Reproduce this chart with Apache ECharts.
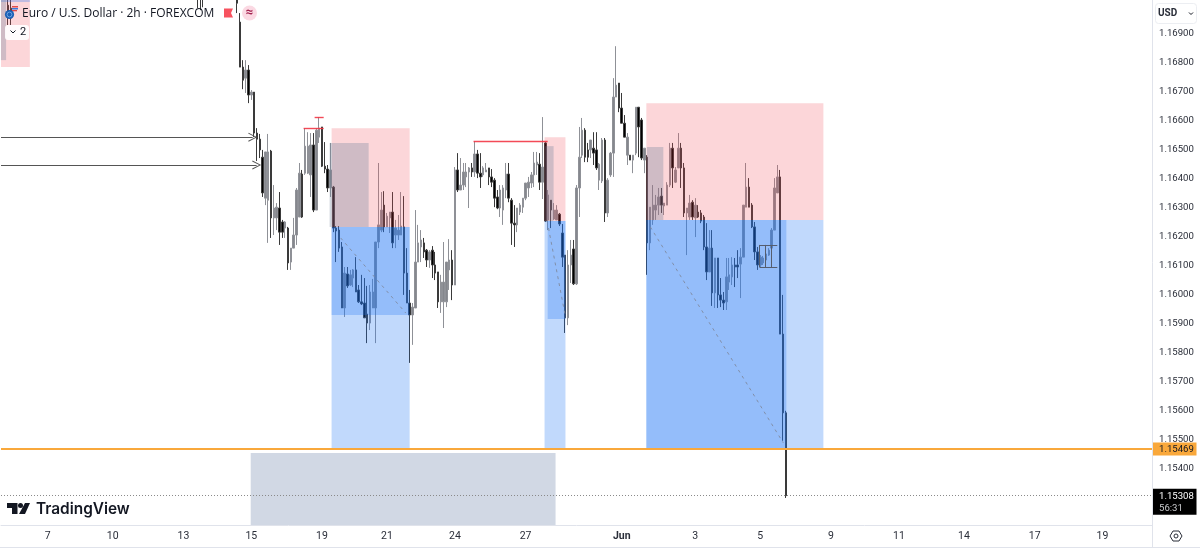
<!DOCTYPE html>
<html><head><meta charset="utf-8">
<style>html,body{margin:0;padding:0;background:#fff}#c{width:1200px;height:548px}</style>
<script src="https://cdn.jsdelivr.net/npm/echarts@6/dist/echarts.min.js"></script>
</head><body><div id="c"></div>
<script>
const BAR_COUNT = 407;
const priceTicks = [1.169,1.168,1.167,1.166,1.165,1.164,1.163,1.162,1.161,1.16,1.159,1.158,1.157,1.156,1.155,1.154];
const dateTicks = [['7',16],['10',39],['13',64],['15',88],['19',113],['21',136],['24',160],['27',185],['Jun',219],['3',245],['5',268],['9',293],['11',317],['14',340],['17',365],['19',389]];
const lastPrice = 1.15308;
const levelPrice = 1.15469;
const countdown = '56:31';
// [open, close, low, high]; the series enters the visible window from above
const stubBars = {
  2:[1.16996,1.16955,1.16928,1.17031],
  3:[1.16986,1.16952,1.16928,1.17014],
  69:[1.17082,1.17048,1.16986,1.17090],
  70:[1.17082,1.17048,1.16979,1.17090],
  71:[1.17082,1.17048,1.16989,1.17090]
};
const firstBar = 83;
const ohlc = [
[1.17041,1.17003,1.16969,1.17065],[1.16938,1.16783,1.16783,1.16969],[1.16783,1.16738,1.16707,1.16807],[1.16745,1.16773,1.16694,1.16807],
[1.16773,1.16687,1.16659,1.16790],[1.16687,1.16697,1.16670,1.16704],[1.16697,1.16556,1.16542,1.16697],[1.16556,1.16535,1.16460,1.16573],
[1.16535,1.16498,1.16470,1.16553],[1.16473,1.16350,1.16336,1.16498],[1.16332,1.16491,1.16308,1.16491],[1.16325,1.16491,1.16178,1.16553],
[1.16494,1.16264,1.16195,1.16498],[1.16264,1.16298,1.16205,1.16377],[1.16264,1.16301,1.16222,1.16315],[1.16298,1.16215,1.16171,1.16353],
[1.16250,1.16215,1.16195,1.16257],[1.16229,1.16250,1.16195,1.16253],[1.16229,1.16109,1.16085,1.16233],[1.16112,1.16160,1.16085,1.16160],
[1.16160,1.16205,1.16160,1.16264],[1.16205,1.16360,1.16171,1.16367],[1.16267,1.16418,1.16267,1.16453],[1.16415,1.16267,1.16264,1.16429],
[1.16418,1.16511,1.16412,1.16573],[1.16418,1.16511,1.16415,1.16559],[1.16412,1.16515,1.16336,1.16556],[1.16515,1.16291,1.16284,1.16556],
[1.16291,1.16566,1.16291,1.16573],[1.16542,1.16573,1.16522,1.16611],[1.16577,1.16442,1.16439,1.16577],[1.16442,1.16432,1.16418,1.16525],
[1.16432,1.16367,1.16353,1.16446],[1.16367,1.16429,1.16336,1.16522],[1.16370,1.16229,1.16215,1.16374],[1.16229,1.16219,1.16112,1.16236],
[1.16222,1.16160,1.16147,1.16236],[1.16164,1.15954,1.15954,1.16181],[1.15954,1.16074,1.15923,1.16095],[1.16071,1.16030,1.16023,1.16095],
[1.16033,1.16068,1.16030,1.16085],[1.16057,1.16085,1.16026,1.16088],[1.16085,1.16009,1.16009,1.16129],[1.16016,1.15975,1.15971,1.16033],
[1.15975,1.15968,1.15964,1.16068],[1.15971,1.15920,1.15920,1.16057],[1.15933,1.15902,1.15833,1.16030],[1.15902,1.16009,1.15878,1.16033],
[1.15954,1.16009,1.15954,1.16054],[1.15954,1.16181,1.15833,1.16181],[1.16181,1.16240,1.16160,1.16453],[1.16222,1.16291,1.16215,1.16353],
[1.16308,1.16233,1.16215,1.16356],[1.16233,1.16270,1.16233,1.16281],[1.16264,1.16284,1.16212,1.16284],[1.16284,1.16178,1.16160,1.16353],
[1.16205,1.16229,1.16160,1.16257],[1.16205,1.16222,1.16188,1.16274],[1.16205,1.16236,1.16205,1.16353],[1.16233,1.16074,1.15999,1.16339],
[1.16074,1.15971,1.15971,1.16160],[1.15971,1.15930,1.15765,1.16016],[1.15930,1.15957,1.15827,1.15971],[1.15954,1.16112,1.15954,1.16291],
[1.16112,1.16178,1.16112,1.16240],[1.16164,1.16188,1.16112,1.16222],[1.16178,1.16147,1.16126,1.16195],[1.16153,1.16119,1.16095,1.16157],
[1.16119,1.16147,1.16092,1.16153],[1.16153,1.16102,1.16057,1.16167],[1.16102,1.16074,1.16050,1.16147],[1.16078,1.15975,1.15954,1.16078],
[1.15975,1.16043,1.15937,1.16068],[1.15975,1.16043,1.15885,1.16181],[1.15975,1.16112,1.15957,1.16112],[1.16085,1.16119,1.16016,1.16191],
[1.16119,1.16033,1.15981,1.16153],[1.16033,1.16429,1.16033,1.16439],[1.16429,1.16360,1.16353,1.16487],[1.16360,1.16377,1.16360,1.16470],
[1.16377,1.16422,1.16360,1.16453],[1.16405,1.16422,1.16370,1.16453],[1.16422,1.16436,1.16298,1.16439],[1.16436,1.16422,1.16405,1.16453],
[1.16422,1.16484,1.16405,1.16528],[1.16484,1.16418,1.16401,1.16498],[1.16418,1.16405,1.16367,1.16487],[1.16412,1.16436,1.16405,1.16442],
[1.16422,1.16429,1.16422,1.16453],[1.16436,1.16405,1.16377,1.16436],[1.16405,1.16387,1.16370,1.16432],[1.16394,1.16332,1.16301,1.16401],
[1.16336,1.16298,1.16294,1.16360],[1.16298,1.16360,1.16267,1.16377],[1.16291,1.16367,1.16240,1.16377],[1.16360,1.16415,1.16332,1.16453],
[1.16415,1.16332,1.16318,1.16453],[1.16325,1.16246,1.16171,1.16332],[1.16246,1.16240,1.16164,1.16308],[1.16240,1.16298,1.16215,1.16298],
[1.16284,1.16308,1.16274,1.16315],[1.16301,1.16332,1.16281,1.16332],[1.16332,1.16384,1.16325,1.16384],[1.16367,1.16387,1.16336,1.16405],
[1.16384,1.16412,1.16367,1.16422],[1.16412,1.16453,1.16370,1.16491],[1.16446,1.16456,1.16412,1.16491],[1.16449,1.16387,1.16360,1.16487],
[1.16387,1.16439,1.16329,1.16611],[1.16522,1.16253,1.16250,1.16525],[1.16257,1.16343,1.16222,1.16360],[1.16325,1.16291,1.16229,1.16325],
[1.16260,1.16291,1.16257,1.16315],[1.16257,1.16291,1.16257,1.16308],[1.16277,1.16243,1.16236,1.16281],[1.16212,1.16129,1.16095,1.16243],
[1.16136,1.15920,1.15868,1.16136],[1.15920,1.16102,1.15895,1.16153],[1.16102,1.16136,1.16040,1.16188],[1.16157,1.16037,1.16033,1.16188],
[1.16037,1.16367,1.16033,1.16377],[1.16367,1.16473,1.16267,1.16577],[1.16480,1.16566,1.16470,1.16608],[1.16566,1.16473,1.16456,1.16573],
[1.16498,1.16473,1.16456,1.16522],[1.16498,1.16532,1.16470,1.16532],[1.16504,1.16487,1.16446,1.16559],[1.16498,1.16436,1.16429,1.16559],
[1.16394,1.16449,1.16360,1.16453],[1.16391,1.16532,1.16384,1.16539],[1.16532,1.16281,1.16250,1.16539],[1.16281,1.16394,1.16267,1.16401],
[1.16412,1.16487,1.16405,1.16491],[1.16487,1.16680,1.16405,1.16745],[1.16680,1.16721,1.16680,1.16855],[1.16728,1.16642,1.16628,1.16728],
[1.16642,1.16590,1.16590,1.16694],[1.16590,1.16542,1.16542,1.16618],[1.16480,1.16542,1.16446,1.16556],[1.16480,1.16463,1.16463,1.16480],
[1.16463,1.16480,1.16418,1.16480],[1.16487,1.16645,1.16480,1.16645],[1.16645,1.16577,1.16473,1.16645],[1.16601,1.16470,1.16463,1.16608],
[1.16463,1.16504,1.16418,1.16504],[1.16473,1.16178,1.16068,1.16480],[1.16178,1.16301,1.16153,1.16301],[1.16257,1.16308,1.16240,1.16377],
[1.16291,1.16308,1.16257,1.16343],[1.16308,1.16336,1.16274,1.16367],[1.16339,1.16308,1.16281,1.16367],[1.16305,1.16315,1.16274,1.16315],
[1.16308,1.16377,1.16308,1.16387],[1.16377,1.16504,1.16370,1.16522],[1.16504,1.16436,1.16367,1.16522],[1.16387,1.16429,1.16384,1.16439],
[1.16436,1.16504,1.16436,1.16556],[1.16504,1.16436,1.16367,1.16522],[1.16436,1.16281,1.16267,1.16453],[1.16281,1.16298,1.16136,1.16298],
[1.16267,1.16315,1.16257,1.16343],[1.16318,1.16267,1.16257,1.16325],[1.16264,1.16308,1.16198,1.16332],[1.16284,1.16267,1.16264,1.16308],
[1.16281,1.16253,1.16246,1.16291],[1.16267,1.16164,1.16153,1.16274],[1.16164,1.16078,1.16050,1.16246],[1.16078,1.16160,1.16078,1.16222],
[1.16160,1.16006,1.15961,1.16222],[1.16006,1.16126,1.15954,1.16126],[1.16126,1.15999,1.15954,1.16126],[1.15999,1.15981,1.15957,1.16057],
[1.15981,1.15971,1.15947,1.16009],[1.15975,1.16061,1.15947,1.16126],[1.16043,1.16068,1.16016,1.16126],[1.16061,1.16102,1.16033,1.16129],
[1.16102,1.16095,1.16026,1.16126],[1.16102,1.16095,1.16057,1.16153],[1.16105,1.16129,1.15988,1.16160],[1.16129,1.16308,1.16129,1.16308],
[1.16301,1.16370,1.16301,1.16453],[1.16370,1.16301,1.16301,1.16401],[1.16308,1.16233,1.16229,1.16315],[1.16233,1.16147,1.16119,1.16250],
[1.16147,1.16102,1.16085,1.16164],[1.16102,1.16129,1.16092,1.16136],[1.16109,1.16126,1.16102,1.16133],[1.16119,1.16140,1.16116,1.16143],
[1.16136,1.16153,1.16133,1.16160],[1.16160,1.16222,1.16153,1.16229],[1.16222,1.16367,1.16222,1.16401],[1.16350,1.16405,1.16350,1.16446],
[1.16405,1.15864,1.15864,1.16429],[1.15864,1.15593,1.15497,1.15999],[1.15593,1.15308,1.15300,1.15600]
];
// drawing tools: [barFrom, barTo, priceTop, priceBottom]
const riskZones = [[116.4,144,1.16573,1.16233],[191.7,199.1,1.16542,1.16253],[227.7,290.3,1.16659,1.16257],[-0.5,9.7,1.17014,1.16783]];
const rewardZones = [[116.4,144,1.16233,1.15469],[191.7,199.1,1.16253,1.15469],[227.7,290.3,1.16257,1.15469],[116.4,144,1.16233,1.15930],[192.8,199.1,1.16253,1.15916],[227.7,277.2,1.16257,1.15469],[-0.5,9.7,1.17014,1.17007]];
const greyZones = [[115.7,129.5,1.16522,1.16233],[191.9,194.9,1.16511,1.16253],[227.9,233.7,1.16508,1.16257],[-0.5,1.3,1.17014,1.16807]];
const slateZones = [[87.8,195.6,1.15455,1.15207]];
const redLines = [[106.5,113.6,1.16573,1.16573],[110.4,113.6,1.16611,1.16611],[166.6,192.8,1.16528,1.16528]];
const arrowLines = [[-0.5,88.5,1.16542,1.16542],[-0.5,89.9,1.16446,1.16446]];
const dashLines = [[119.6,142.6,1.16195,1.15937],[193.1,199.1,1.16229,1.15923],[229.1,276.1,1.16233,1.15490]];
const boxLines = [[267.7,274,1.16171,1.16171],[267.7,274,1.16095,1.16095],[267.7,267.7,1.16171,1.16095],[269.8,269.8,1.16171,1.16095],[271.9,271.9,1.16171,1.16095]];

const categories = Array.from({length:BAR_COUNT},(_, i)=>'bar'+i);
const tickAt = Object.fromEntries(dateTicks.map(d=>[d[1],d[0]]));
const seriesData = categories.map((_, i)=>{
  if (stubBars[i]) return stubBars[i];
  const r = ohlc[i-firstBar];
  return r || ['-','-','-','-'];
});
const zoneItems = (z,color)=>z.map(r=>[{xAxis:r[0],yAxis:r[2],itemStyle:{color}},{xAxis:r[1],yAxis:r[3]}]);
const lineItems = (l,lineStyle)=>l.map(r=>[{coord:[r[0],r[2]],lineStyle},{coord:[r[1],r[3]]}]);
const overlay = (extra)=>Object.assign({type:'line',xAxisIndex:1,yAxisIndex:0,data:[],silent:true,animation:false},extra);
const ml = (data,symbol,symbolSize,z)=>({silent:true,animation:false,symbol,symbolSize:symbolSize||0,label:{show:false},emphasis:{disabled:true},z:z||6,data});
const chevron='path://M0,10.5 L5,0 L10,10.5 L9,11 L5,2.4 L1,11 Z';
const FONT='Roboto,"Open Sans",sans-serif';

const chart = echarts.init(document.getElementById('c'),null,{renderer:'canvas'});
chart.setOption({
  animation:false,backgroundColor:'#fff',
  grid:{left:1,top:0,width:1151,height:525,containLabel:false},
  xAxis:[
   {type:'category',data:categories,boundaryGap:true,
    axisLine:{lineStyle:{color:'#e0e3eb',width:1}},axisTick:{show:false},splitLine:{show:false},
    axisLabel:{interval:i=>tickAt[i]!==undefined,formatter:(v,i)=>{const t=tickAt[i];return t==='Jun'?'{b|Jun}':(t||'');},
      color:'#2a2e39',fontSize:10.5,fontFamily:FONT,margin:6,rich:{b:{fontWeight:'bold',fontSize:10.5,fontFamily:FONT,color:'#2a2e39'}}}},
   {type:'value',min:-0.5,max:BAR_COUNT-0.5,show:false}
  ],
  yAxis:{type:'value',position:'right',min:1.15207,max:1.17014,scale:true,
    axisLine:{show:true,onZero:false,lineStyle:{color:'#e0e3eb'}},axisTick:{show:false},splitLine:{show:false},
    axisLabel:{customValues:priceTicks,formatter:v=>v.toFixed(5),color:'#2a2e39',fontSize:9.6,fontFamily:FONT,margin:7,padding:[2,0,0,0]}},
  series:[
   {type:'candlestick',data:seriesData,barWidth:2,z:2,silent:true,
    itemStyle:{color:'#85878d',borderColor:'#8f9197',color0:'#000',borderColor0:'#3a3a3a',borderWidth:1}},
   overlay({markArea:{silent:true,animation:false,z:4,data:[
     ...zoneItems(slateZones,'#d1d8e4'),
     ...zoneItems(riskZones,'rgba(242,70,80,0.22)'),
     ...zoneItems(rewardZones,'rgba(33,120,245,0.28)'),
     ...zoneItems(greyZones,'rgba(104,125,153,0.30)')]}}),
   overlay({markLine:ml(lineItems(redLines,{color:'#f23645',width:1.4,type:'solid',opacity:.9}),'none')}),
   overlay({markLine:ml(lineItems(arrowLines,{color:'#555',width:1,type:'solid'}),['none',chevron],9)}),
   overlay({markLine:ml(lineItems(dashLines,{color:'#7e8aa0',width:1,type:[3,4],opacity:.9}),'none')}),
   overlay({markLine:ml(lineItems(boxLines,{color:'#555d6e',width:1,type:'solid'}),'none')}),
   overlay({markLine:ml([[{coord:[-0.5,levelPrice],lineStyle:{color:'#f9a83b',width:2,type:'solid'}},{coord:[BAR_COUNT-0.5,levelPrice]}],
     [{coord:[-0.5,lastPrice],lineStyle:{color:'#8a8a8a',width:1,type:[1,2]}},{coord:[BAR_COUNT-0.5,lastPrice]}]],'none')})
  ]
});
const yOf = p=>chart.convertToPixel({yAxisIndex:0},p);
const yL=yOf(levelPrice), yP=yOf(lastPrice);
const txt=(x,y,text,o)=>({type:'text',z:50,x,y,silent:true,style:Object.assign({text,fill:'#131722',font:'9.6px '+FONT,align:'left',verticalAlign:'middle'},o||{})});
const rect=(x,y,w,h,fill,o)=>({type:'rect',z:49,silent:true,shape:Object.assign({x,y,width:w,height:h},o&&o.shape||{}),style:Object.assign({fill},o&&o.style||{})});
chart.setOption({graphic:[
  rect(1153,yL-6.5,43.5,13,'#f9a83b'),
  txt(1159,yL+.5,levelPrice.toFixed(5),{fill:'#131722'}),
  rect(1153,yP-7,43.5,26,'#000'),
  txt(1159,yP+.5,lastPrice.toFixed(5),{fill:'#fff'}),
  txt(1159,yP+12.5,countdown,{fill:'#c8c9cc'}),
  // right & bottom frame
  rect(0,547,1200,1,'#e0e3eb'),
  rect(1152,525,1,23,'#e0e3eb'),
  // currency button
  rect(1155.5,3.5,41,20,'#fff',{shape:{r:3},style:{stroke:'#eceef2'}}),
  txt(1158,13.5,'USD',{font:'bold 10px '+FONT,fill:'#2a2e39'}),
  {type:'polyline',z:50,silent:true,shape:{points:[[1189,12.5],[1191,14.5],[1193,12.5]]},style:{stroke:'#131722',lineWidth:1,fill:null}},
  // header
  {type:'circle',z:50,silent:true,shape:{cx:9.5,cy:14.5,r:4.6},style:{fill:'#1a5fb4'}},
  {type:'circle',z:50,silent:true,shape:{cx:9.5,cy:14.5,r:2.4},style:{fill:'none',stroke:'#7fb1ec',lineWidth:.8}},
  rect(12,6,6,1.5,'#e04b4b'),rect(12,8,6,1.5,'#3a78d8'),rect(12,10,5,1.3,'#e04b4b'),
  txt(22,13.5,'Euro / U.S. Dollar · 2h · FOREXCOM',{font:'12px "Open Sans",sans-serif',fill:'#131722'}),
  {type:'polygon',z:50,silent:true,shape:{points:[[224,8.5],[233,8.5],[231,13],[233,17.5],[224,17.5]]},style:{fill:'#f7525f'}},
  {type:'circle',z:50,silent:true,shape:{cx:249.5,cy:13,r:7.5},style:{fill:'#fbd9e3'}},
  txt(245.5,13,'≈',{font:'bold 13px '+FONT,fill:'#a3214f'}),
  rect(5,25,24,15,'rgba(255,255,255,0.9)',{shape:{r:3}}),
  {type:'polyline',z:50,silent:true,shape:{points:[[10.5,30.5],[13,33],[15.5,30.5]]},style:{stroke:'#131722',lineWidth:1,fill:null}},
  txt(20,32.5,'2',{font:'11px '+FONT}),
  // watermark logo
  {type:'polygon',z:50,silent:true,shape:{points:[[7,503],[17.5,503],[17.5,514],[12,514],[12,508],[7,508]]},style:{fill:'#131722'}},
  {type:'circle',z:50,silent:true,shape:{cx:20.5,cy:505.5,r:2.5},style:{fill:'#131722'}},
  {type:'polygon',z:50,silent:true,shape:{points:[[25,503],[30,503],[25,514],[19,514]]},style:{fill:'#131722'}},
  txt(36,509.5,'TradingView',{font:'600 15.4px Inter,"Open Sans",sans-serif',fill:'#131722'}),
  // settings gear
  {type:'polygon',z:50,silent:true,shape:{points:[[1170,536],[1173,531],[1179,531],[1182,536],[1179,541],[1173,541]]},style:{fill:'#fff',stroke:'#2a2e39',lineWidth:1}},
  {type:'circle',z:51,silent:true,shape:{cx:1176,cy:536,r:2},style:{fill:'#fff',stroke:'#2a2e39',lineWidth:1}}
]});
</script></body></html>
